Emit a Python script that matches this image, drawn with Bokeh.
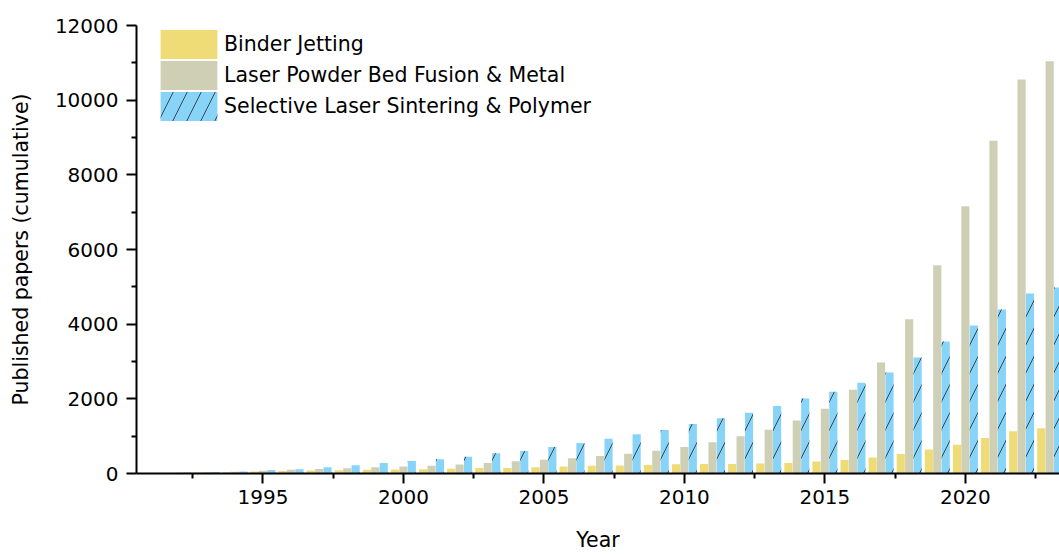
from bokeh.plotting import figure
from bokeh.models import FixedTicker, Range1d, Legend, LegendItem, ColumnDataSource
from bokeh.transform import dodge
from bokeh.embed import file_html
from bokeh.resources import INLINE

years = list(range(1991, 2024))
binder_jetting = [5, 15, 25, 35, 55, 65, 80, 85, 100, 110, 115, 125, 145, 150, 170, 190,
                  205, 215, 230, 250, 255, 255, 265, 280, 320, 360, 430, 520, 645, 770,
                  950, 1130, 1210]
lpbf_metal = [8, 20, 35, 50, 75, 100, 120, 140, 165, 190, 205, 240, 280, 325, 365, 410,
              470, 530, 610, 710, 835, 995, 1170, 1420, 1735, 2240, 2975, 4135, 5575, 7160,
              8910, 10555, 11045]
sls_polymer = [12, 25, 40, 55, 95, 115, 170, 220, 280, 335, 380, 450, 540, 605, 710, 820,
               930, 1050, 1165, 1325, 1480, 1625, 1805, 2010, 2190, 2430, 2705, 3110, 3535, 3965,
               4395, 4820, 4980]
labels = ["Binder Jetting", "Laser Powder Bed Fusion & Metal", "Selective Laser Sintering & Polymer"]
x_major = [1995, 2000, 2005, 2010, 2015, 2020]
x_minor = [1992.5, 1997.5, 2002.5, 2007.5, 2012.5, 2017.5, 2022.5]
y_major = [0, 2000, 4000, 6000, 8000, 10000, 12000]
y_minor = [1000, 3000, 5000, 7000, 9000, 11000]

src = ColumnDataSource(dict(year=years, bj=binder_jetting, lpbf=lpbf_metal, sls=sls_polymer))

FONT = "DejaVu Sans"
p = figure(width=1059, height=554, x_range=Range1d(1990.5, 2023.35), y_range=Range1d(0, 12000),
           output_backend="svg", toolbar_location=None,
           min_border_left=136, min_border_top=25, min_border_right=0, min_border_bottom=81)
p.outline_line_color = None
p.xgrid.visible = False
p.ygrid.visible = False

W = 0.29
r1 = p.vbar(x=dodge("year", -0.3), top="bj", width=W, source=src,
            fill_color="#EFDC76", line_color=None)
r2 = p.vbar(x=dodge("year", 0.0), top="lpbf", width=W, source=src,
            fill_color="#CFCFB6", line_color=None)
r3 = p.vbar(x=dodge("year", 0.3), top="sls", width=W, source=src,
            fill_color="#88D4F9", line_color=None,
            hatch_pattern="/", hatch_scale=28, hatch_color="#1a1a1a",
            hatch_weight=0.9, hatch_alpha=0.85)

for ax in (p.xaxis[0], p.yaxis[0]):
    ax.axis_line_width = 2
    ax.major_tick_line_width = 2
    ax.minor_tick_line_width = 2
    ax.major_tick_in = 0
    ax.major_tick_out = 10
    ax.minor_tick_in = 0
    ax.minor_tick_out = 5
    ax.major_label_text_font = FONT
    ax.major_label_text_font_size = "20px"
    ax.major_label_text_color = "black"
    ax.axis_label_text_font = FONT
    ax.axis_label_text_font_size = "20.5px"
    ax.axis_label_text_font_style = "normal"
    ax.axis_label_text_color = "black"

p.xaxis.ticker = FixedTicker(ticks=x_major, minor_ticks=x_minor)
p.yaxis.ticker = FixedTicker(ticks=y_major, minor_ticks=y_minor)
p.xaxis.axis_label = "Year"
p.yaxis.axis_label = "Published papers (cumulative)"
p.xaxis.major_label_standoff = 6
p.xaxis.axis_label_standoff = 21
p.yaxis.major_label_standoff = 8
p.yaxis.axis_label_standoff = 19

renderers = [r1, r2, r3]
legend_y = [411, 380, 349]
for lab, rend, ly in zip(labels, renderers, legend_y):
    lg = Legend(items=[LegendItem(label=lab, renderers=[rend])],
                location=(17, ly), glyph_width=71, glyph_height=36, spacing=0,
                padding=0, margin=0, border_line_color=None, background_fill_alpha=0,
                label_standoff=0, label_text_font=FONT, label_text_font_size="20.5px",
                label_text_color="black")
    p.add_layout(lg, "center")

open("out.html", "w").write(file_html(p, INLINE))
